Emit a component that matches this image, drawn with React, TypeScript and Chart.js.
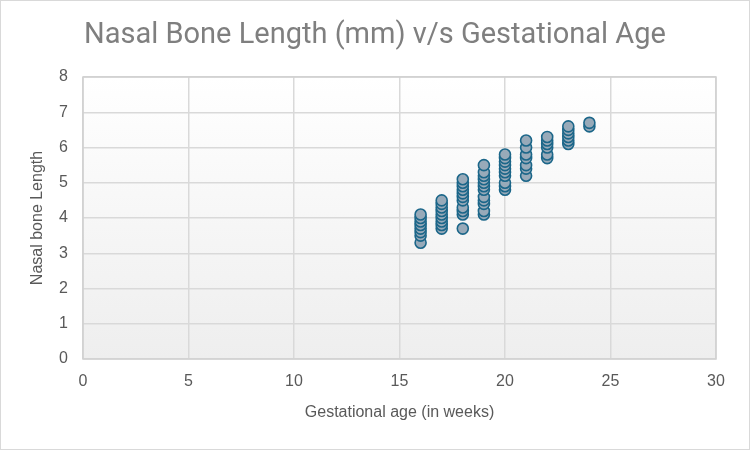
import React, { useEffect, useRef } from "react";
import { Chart, registerables } from "chart.js";

Chart.register(...registerables);

// Gestational age (weeks) and nasal bone length (mm) per week
const weeks = [16, 17, 18, 19, 20, 21, 22, 23, 24];
const lengthsByWeek: number[][] = [
  [3.3, 3.5, 3.6, 3.7, 3.8, 3.9, 4.0, 4.1],
  [3.7, 3.8, 3.9, 4.0, 4.1, 4.2, 4.3, 4.4, 4.5],
  [3.7, 4.1, 4.2, 4.3, 4.5, 4.6, 4.7, 4.8, 4.9, 5.0, 5.1],
  [4.1, 4.2, 4.4, 4.5, 4.6, 4.8, 4.9, 5.0, 5.1, 5.2, 5.3, 5.5],
  [4.8, 4.9, 5.0, 5.2, 5.3, 5.4, 5.5, 5.6, 5.7, 5.8],
  [5.2, 5.4, 5.5, 5.7, 5.8, 6.0, 6.2],
  [5.7, 5.8, 6.0, 6.1, 6.2, 6.3],
  [6.1, 6.2, 6.3, 6.4, 6.5, 6.6],
  [6.6, 6.7],
];

const chartTitle = "Nasal Bone Length (mm) v/s Gestational Age";
const xTitle = "Gestational age (in weeks)";
const yTitle = "Nasal bone Length";

const FONT = "'Liberation Sans', Arial, sans-serif";

const frame = {
  id: "frame",
  beforeDraw(chart: Chart) {
    const { ctx, chartArea: a, width, height } = chart;
    ctx.save();
    ctx.fillStyle = "#ffffff";
    ctx.fillRect(0, 0, width, height);
    const g = ctx.createLinearGradient(0, a.top, 0, a.bottom);
    g.addColorStop(0, "#ffffff");
    g.addColorStop(1, "#eeeeee");
    ctx.fillStyle = g;
    ctx.fillRect(a.left, a.top, a.right - a.left, a.bottom - a.top);
    ctx.restore();
  },
  afterDraw(chart: Chart) {
    const { ctx, chartArea: a, width, height } = chart;
    ctx.save();
    ctx.strokeStyle = "#d0d0d0";
    ctx.lineWidth = 1.5;
    ctx.strokeRect(a.left, a.top, a.right - a.left, a.bottom - a.top);
    ctx.strokeStyle = "#d9d9d9";
    ctx.lineWidth = 1;
    ctx.strokeRect(0.5, 0.5, width - 1, height - 1);
    ctx.fillStyle = "#7f7f7f";
    ctx.font = `29px Roboto, ${FONT}`;
    ctx.textAlign = "center";
    ctx.textBaseline = "middle";
    ctx.fillText(chartTitle, width / 2, 36);
    ctx.restore();
  },
};

export default function App() {
  const ref = useRef<HTMLCanvasElement | null>(null);

  useEffect(() => {
    if (!ref.current) return;
    const points = weeks.flatMap((w, i) =>
      lengthsByWeek[i].map((v) => ({ x: w, y: v }))
    );
    const chart = new Chart(ref.current, {
      type: "scatter",
      data: {
        datasets: [
          {
            data: points,
            pointRadius: 5.5,
            pointHoverRadius: 5.5,
            pointBorderWidth: 1.6,
            pointBackgroundColor: "#98aab9",
            pointBorderColor: "#1b6689",
          },
        ],
      },
      options: {
        animation: false,
        responsive: false,
        layout: { padding: { left: 0, right: 34, top: 77, bottom: 0 } },
        plugins: {
          legend: { display: false },
          title: { display: false },
          tooltip: { enabled: false },
        },
        scales: {
          x: {
            type: "linear",
            min: 0,
            max: 30,
            ticks: {
              stepSize: 5,
              color: "#595959",
              font: { family: FONT, size: 16 },
              padding: 13,
            },
            grid: { color: "#d9d9d9", lineWidth: 1.5, drawTicks: false },
            border: { display: false },
            title: {
              display: true,
              text: xTitle,
              color: "#595959",
              font: { family: FONT, size: 16 },
              padding: { top: 0, bottom: 28 },
            },
            afterFit: (s: any) => {
              s.height = 91;
            },
          },
          y: {
            min: 0,
            max: 8,
            ticks: {
              stepSize: 1,
              color: "#595959",
              font: { family: FONT, size: 16 },
              padding: 15,
            },
            grid: { color: "#d9d9d9", lineWidth: 1.5, drawTicks: false },
            border: { display: false },
            title: {
              display: true,
              text: yTitle,
              color: "#595959",
              font: { family: FONT, size: 16 },
              padding: { top: 28, bottom: 0 },
            },
            afterFit: (s: any) => {
              s.width = 83;
            },
          },
        },
      },
      plugins: [frame],
    });
    return () => chart.destroy();
  }, []);

  return (
    <div style={{ position: "fixed", left: 0, top: 0, width: 750, height: 450 }}>
      <canvas ref={ref} width={750} height={450} />
    </div>
  );
}
